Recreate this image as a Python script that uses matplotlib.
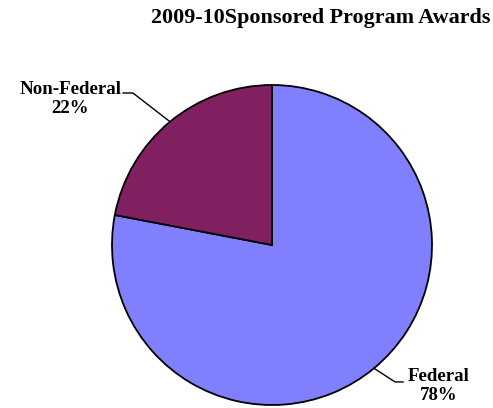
import numpy as np
import matplotlib
matplotlib.use('Agg')
import matplotlib.pyplot as plt

# data
labels = ['Federal', 'Non-Federal']
shares = [78, 22]
colors = ['#8080FF', '#802060']
title = '2009-10Sponsored Program Awards'

plt.rcParams['font.family'] = ['Liberation Serif', 'DejaVu Serif']

W, H = 493, 408
fig = plt.figure(figsize=(W / 100, H / 100), dpi=100)
# square axes, pie centre at (272, 245) px, radius 160 px
ax = fig.add_axes([112 / W, (H - 405) / H, 320 / W, 320 / H])
wedges, _ = ax.pie(shares, colors=colors, startangle=90, counterclock=False,
                   radius=1.0, wedgeprops=dict(edgecolor='black', linewidth=1.3))
ax.set_xlim(-1, 1)
ax.set_ylim(-1, 1)
ax.set_aspect('auto')
ax.axis('off')

# label layout: (elbow, line end, text centre)
layout = {
    'Federal': ((0.769, -0.856), (0.819, -0.856), (1.044, -0.880)),
    'Non-Federal': ((-0.869, 0.950), (-0.931, 0.950), (-1.262, 0.910)),
}
for w, lab, val in zip(wedges, labels, shares):
    mid = np.deg2rad((w.theta1 + w.theta2) / 2)
    edge = (np.cos(mid), np.sin(mid))
    elbow, end, txt = layout[lab]
    ax.plot([edge[0], elbow[0], end[0]], [edge[1], elbow[1], end[1]],
            color='black', lw=1.0, clip_on=False)
    ax.text(txt[0], txt[1], f'{lab}\n{val}%', ha='center', va='center',
            fontsize=13.6, fontweight='bold', linespacing=1.15, clip_on=False)

fig.text(490 / W, 1 - 18 / H, title, ha='right', va='center',
         fontsize=15.9, fontweight='bold')

fig.savefig('out.png', dpi=100)
